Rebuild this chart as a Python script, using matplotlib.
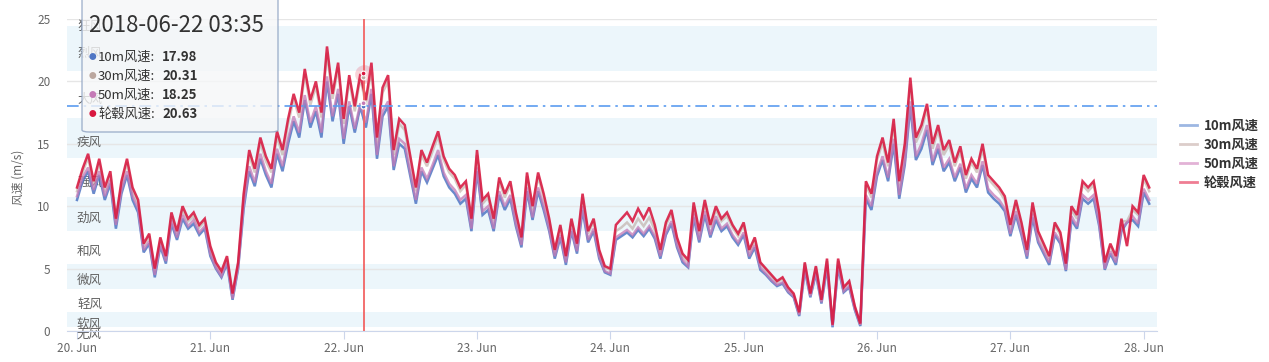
import numpy as np
import matplotlib.pyplot as plt
from matplotlib.patches import FancyBboxPatch
from matplotlib.lines import Line2D

plt.rcParams['font.family'] = ['Noto Sans CJK SC', 'DejaVu Sans']

# hourly readings, hour 0 = 20 Jun 00:00
hub = [11.5, 13.0, 14.2, 12.0, 13.8, 11.5, 12.8, 9.0, 12.0, 13.8, 11.5, 10.5, 7.0, 7.8, 5.0, 7.5, 6.0, 9.5, 8.0, 10.0, 9.0, 9.5, 8.5, 9.0,
       6.8, 5.5, 4.8, 6.0, 3.0, 5.5, 11.0, 14.5, 13.0, 15.5, 14.0, 13.0, 16.0, 14.5, 17.0, 19.0, 17.5, 21.0, 18.5, 20.0, 17.5, 22.8, 19.0, 21.5,
       17.0, 20.5, 18.0, 20.6, 18.5, 21.5, 15.5, 19.5, 20.5, 14.5, 17.0, 16.5, 14.0, 11.5, 14.5, 13.5, 14.8, 16.0, 14.0, 13.0, 12.5, 11.5, 12.0, 9.0,
       14.5, 10.5, 11.0, 9.0, 12.3, 11.0, 12.0, 9.5, 7.5, 12.7, 10.0, 12.7, 11.0, 9.0, 6.5, 8.5, 6.0, 9.0, 7.0, 11.0, 8.0, 9.0, 6.5, 5.2,
       5.0, 8.5, 9.0, 9.5, 8.8, 9.8, 9.0, 9.9, 8.5, 6.5, 8.7, 9.7, 7.5, 6.2, 5.7, 10.3, 8.0, 10.5, 8.5, 10.0, 9.0, 9.5, 8.5, 7.8,
       8.7, 6.5, 7.5, 5.5, 5.0, 4.5, 4.0, 4.3, 3.5, 3.0, 1.5, 5.5, 3.0, 5.2, 2.5, 5.8, 0.5, 5.8, 3.5, 4.0, 2.0, 0.6, 12.0, 11.0,
       14.0, 15.5, 13.5, 17.0, 12.0, 15.0, 20.3, 15.5, 16.5, 18.2, 15.0, 16.5, 14.5, 15.3, 13.5, 14.8, 12.5, 13.8, 13.0, 15.0, 12.5, 12.0, 11.5, 10.8,
       8.5, 10.5, 8.7, 6.5, 10.3, 8.0, 7.0, 6.0, 8.7, 7.9, 5.4, 10.0, 9.3, 12.0, 11.5, 12.0, 9.5, 5.5, 7.0, 6.0, 9.0, 6.8, 10.0, 9.5, 12.5, 11.5]

ws10 = [10.5, 12.0, 12.8, 11.0, 12.5, 10.5, 11.8, 8.2, 11.0, 12.5, 10.5, 9.5, 6.3, 7.0, 4.3, 6.8, 5.4, 8.6, 7.3, 9.0, 8.2, 8.6, 7.7, 8.2,
        6.0, 5.0, 4.3, 5.4, 2.5, 5.0, 9.8, 12.8, 11.6, 13.8, 12.5, 11.5, 14.2, 12.8, 15.0, 16.8, 15.5, 18.5, 16.3, 17.6, 15.5, 20.0, 16.8, 19.0,
        15.0, 18.0, 15.9, 17.98, 16.3, 19.0, 13.8, 17.2, 18.0, 12.9, 15.0, 14.6, 12.4, 10.2, 12.8, 11.9, 13.0, 14.1, 12.4, 11.5, 11.0, 10.2, 10.6, 8.0,
        12.8, 9.3, 9.7, 8.0, 10.9, 9.7, 10.6, 8.4, 6.7, 11.2, 8.9, 11.2, 9.7, 8.0, 5.8, 7.5, 5.3, 8.0, 6.2, 9.7, 7.1, 8.0, 5.8, 4.7,
        4.5, 7.3, 7.6, 7.9, 7.5, 8.1, 7.6, 8.2, 7.4, 5.8, 7.7, 8.6, 6.7, 5.5, 5.1, 9.1, 7.1, 9.3, 7.5, 8.9, 8.0, 8.4, 7.5, 6.9,
        7.7, 5.8, 6.7, 4.9, 4.5, 4.0, 3.6, 3.8, 3.1, 2.7, 1.2, 4.9, 2.7, 4.6, 2.2, 5.1, 0.3, 5.1, 3.1, 3.5, 1.7, 0.4, 10.6, 9.7,
        12.4, 13.7, 12.0, 15.0, 10.6, 13.3, 18.0, 13.7, 14.6, 16.1, 13.3, 14.6, 12.8, 13.5, 12.0, 13.1, 11.1, 12.2, 11.5, 13.3, 11.1, 10.6, 10.2, 9.6,
        7.6, 9.3, 7.7, 5.8, 9.1, 7.1, 6.2, 5.3, 7.7, 7.0, 4.8, 8.9, 8.2, 10.6, 10.2, 10.6, 8.4, 4.9, 6.2, 5.3, 8.0, 8.7, 8.9, 8.4, 11.1, 10.2]

ws30 = [11.2, 12.7, 13.9, 11.7, 13.5, 11.2, 12.5, 8.8, 11.7, 13.5, 11.2, 10.2, 6.8, 7.6, 4.8, 7.3, 5.8, 9.2, 7.8, 9.7, 8.8, 9.2, 8.3, 8.8,
        6.6, 5.3, 4.6, 5.8, 2.9, 5.3, 10.7, 14.1, 12.7, 15.1, 13.6, 12.7, 15.6, 14.1, 16.6, 18.6, 17.1, 20.6, 18.1, 19.6, 17.1, 22.3, 18.6, 21.1,
        16.6, 20.1, 17.6, 20.31, 18.1, 21.0, 15.1, 19.1, 20.0, 14.1, 16.6, 16.1, 13.7, 11.2, 14.1, 13.2, 14.4, 15.6, 13.7, 12.7, 12.2, 11.2, 11.7, 8.8,
        14.1, 10.2, 10.7, 8.8, 12.0, 10.7, 11.7, 9.3, 7.3, 12.4, 9.7, 12.4, 10.7, 8.8, 6.3, 8.3, 5.8, 8.8, 6.8, 10.7, 7.8, 8.8, 6.3, 5.1,
        4.9, 8.0, 8.3, 8.7, 8.2, 9.0, 8.4, 9.1, 8.1, 6.3, 8.5, 9.4, 7.3, 6.0, 5.5, 10.0, 7.8, 10.2, 8.3, 9.7, 8.8, 9.2, 8.3, 7.6,
        8.5, 6.3, 7.3, 5.4, 4.9, 4.4, 3.9, 4.2, 3.4, 2.9, 1.4, 5.4, 2.9, 5.1, 2.4, 5.6, 0.5, 5.6, 3.4, 3.9, 1.9, 0.5, 11.7, 10.7,
        13.7, 15.1, 13.2, 16.6, 11.7, 14.6, 19.8, 15.1, 16.1, 17.8, 14.6, 16.1, 14.1, 14.9, 13.2, 14.4, 12.2, 13.5, 12.7, 14.6, 12.2, 11.7, 11.2, 10.5,
        8.3, 10.2, 8.5, 6.3, 10.0, 7.8, 6.8, 5.8, 8.5, 7.7, 5.3, 9.7, 9.0, 11.7, 11.2, 11.7, 9.3, 5.4, 6.8, 5.8, 8.8, 8.8, 9.7, 9.3, 12.2, 11.2]

ws50 = [10.8, 12.3, 13.1, 11.3, 12.8, 10.8, 12.1, 8.5, 11.3, 12.8, 10.8, 9.8, 6.5, 7.2, 4.5, 7.0, 5.6, 8.9, 7.5, 9.3, 8.4, 8.9, 7.9, 8.4,
        6.2, 5.1, 4.4, 5.6, 2.6, 5.1, 10.1, 13.2, 11.9, 14.2, 12.8, 11.8, 14.6, 13.2, 15.4, 17.2, 15.9, 18.9, 16.7, 18.0, 15.9, 20.4, 17.2, 19.4,
        15.4, 18.4, 16.2, 18.25, 16.7, 19.4, 14.1, 17.6, 18.4, 13.2, 15.4, 15.0, 12.7, 10.5, 13.1, 12.2, 13.3, 14.5, 12.7, 11.8, 11.3, 10.5, 10.9, 8.2,
        13.1, 9.6, 10.0, 8.2, 11.2, 10.0, 10.9, 8.6, 6.9, 11.5, 9.1, 11.5, 10.0, 8.2, 6.0, 7.7, 5.5, 8.2, 6.4, 10.0, 7.3, 8.2, 6.0, 4.8,
        4.6, 7.5, 7.8, 8.1, 7.7, 8.3, 7.8, 8.4, 7.6, 6.0, 7.9, 8.8, 6.9, 5.7, 5.2, 9.4, 7.3, 9.6, 7.7, 9.2, 8.2, 8.6, 7.7, 7.1,
        7.9, 6.0, 6.9, 5.1, 4.6, 4.1, 3.7, 3.9, 3.2, 2.8, 1.3, 5.0, 2.8, 4.7, 2.3, 5.3, 0.4, 5.3, 3.2, 3.6, 1.8, 0.5, 10.9, 10.0,
        12.7, 14.0, 12.3, 15.4, 10.9, 13.6, 18.4, 14.0, 15.0, 16.5, 13.6, 15.0, 13.1, 13.8, 12.3, 13.4, 11.4, 12.5, 11.8, 13.6, 11.4, 10.9, 10.5, 9.8,
        7.8, 9.6, 7.9, 6.0, 9.4, 7.3, 6.4, 5.5, 7.9, 7.2, 4.9, 9.2, 8.4, 10.9, 10.5, 10.9, 8.6, 5.0, 6.4, 5.5, 8.2, 8.7, 9.2, 8.6, 11.4, 10.5]

day_labels = ['20. Jun', '21. Jun', '22. Jun', '23. Jun', '24. Jun', '25. Jun', '26. Jun', '27. Jun', '28. Jun']

band_lo = [0, 0.3, 1.6, 3.4, 5.5, 8.0, 10.8, 13.9, 17.2, 20.8, 24.5]
band_hi = [0.2, 1.5, 3.3, 5.4, 7.9, 10.7, 13.8, 17.1, 20.7, 24.4, 28.4]
band_names = ['无风', '软风', '轻风', '微风', '和风', '劲风', '强风', '疾风', '大风', '烈风', '狂风']

names = ['10m风速', '30m风速', '50m风速', '轮毂风速']
colors = ['#4f76c4', '#bba79f', '#c47ab6', '#d8173f']
legend_colors = ['#9db7e2', '#dccdca', '#e2b2d6', '#ef7d93']

tip_time = 2 + (3 + 35/60) / 24   # 2018-06-22 03:35
tip_vals = [17.98, 20.31, 18.25, 20.63]
hline_val = 18

hours = np.arange(len(hub))
days = hours / 24.0

fig = plt.figure(figsize=(12.69, 3.62), dpi=100)
ax = fig.add_axes([67/1269, 1-331/362, 1090/1269, 312/362])

# wind scale bands
for i, (lo, hi, nm) in enumerate(zip(band_lo, band_hi, band_names)):
    if i % 2 == 1:
        ax.axhspan(lo, hi, color='#ecf6fb', zorder=0, lw=0)
    mid = (lo + min(hi, 25)) / 2 - 0.35
    ax.text(0.0, mid, nm, color='#606060', fontsize=9, va='center', ha='left',
            zorder=1, clip_on=False)

for s, c, a in zip([ws10, ws30, ws50, hub], colors, [0.85, 0.6, 0.75, 0.88]):
    ax.plot(days, s, color=c, lw=1.8, alpha=a, zorder=3, solid_joinstyle='miter')

ax.axhline(hline_val, color='#5b9cf0', lw=1.2, ls=(0, (7, 3, 1.5, 3)), zorder=4)
ax.axvline(tip_time, color='#f26464', lw=1.3, zorder=5)

# hover markers
ax.scatter([tip_time], [tip_vals[3]], s=180, color='#e8506a', alpha=0.25, lw=0, zorder=6)
ax.scatter([tip_time] * 4, tip_vals, s=12, facecolor=colors, edgecolor='white', lw=0.8, zorder=7)

ax.set_xlim(-0.075, 8.1)
ax.set_ylim(0, 25)
ax.set_yticks([0, 5, 10, 15, 20, 25])
ax.yaxis.grid(True, color='#e6e6e6', lw=1)
ax.set_axisbelow(True)
ax.set_xticks(range(9))
ax.set_xticklabels(day_labels)
for sp in ['top', 'right', 'left']:
    ax.spines[sp].set_visible(False)
ax.spines['bottom'].set_color('#ccd6eb')
ax.tick_params(axis='y', length=0, pad=12, labelsize=8.5, labelcolor='#666666')
ax.tick_params(axis='x', length=6, color='#ccd6eb', pad=2, labelsize=8.5, labelcolor='#666666')

fig.text(18/1269, 1-177/362, '风速 (m/s)', rotation=90, color='#666666', fontsize=8.5,
         ha='center', va='center')

# legend
handles = [Line2D([], [], color=c, lw=2) for c in legend_colors]
leg = fig.legend(handles, names, loc='upper left', bbox_to_anchor=(1168/1269, 1-107/362),
                 frameon=False, handlelength=1.3, handletextpad=0.5, labelspacing=0.38,
                 prop={'weight': 'bold', 'size': 9.5})
for t in leg.get_texts():
    t.set_color('#333333')

# tooltip
box = FancyBboxPatch((82/1269, 1-132/362), 196/1269, 140/362, transform=fig.transFigure,
                     boxstyle='round,pad=0,rounding_size=0.006', facecolor='#f6f7f8',
                     edgecolor='#8ea2c2', lw=1, alpha=0.8, zorder=10)
fig.patches.append(box)
fig.text(89/1269, 1-26/362, '2018-06-22 03:35', fontsize=16, color='#333333',
         va='center', ha='left', zorder=11)
for i, (nm, v, c) in enumerate(zip(names, tip_vals, colors)):
    y = 1 - (57 + 19 * i) / 362
    fig.text(92/1269, y, '\u25cf', color=c, fontsize=5.5, va='center', ha='center', zorder=11)
    fig.text(98/1269, y, nm + ':', color='#333333', fontsize=9.5, va='center', ha='left', zorder=11)
    fig.text(162/1269, y, f'{v:.2f}', color='#333333', fontsize=9.5, fontweight='bold',
             va='center', ha='left', zorder=11)

fig.savefig('out.png', dpi=100)
